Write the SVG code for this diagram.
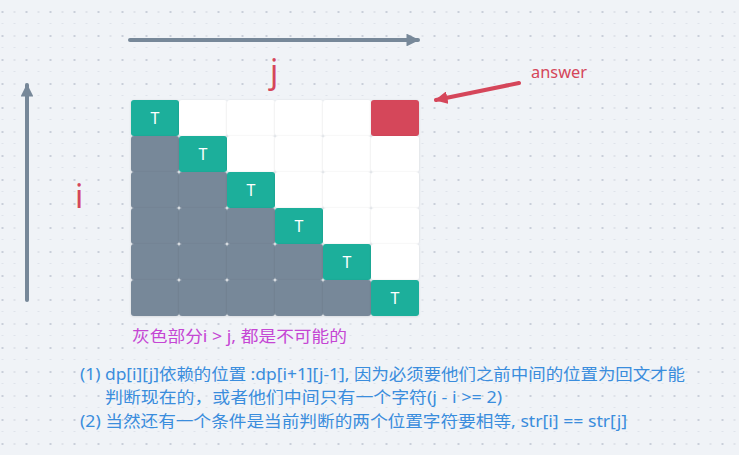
<svg xmlns="http://www.w3.org/2000/svg" width="739" height="455" viewBox="0 0 739 455">
<defs>
<pattern id="dots" x="0" y="0" width="24" height="24" patternUnits="userSpaceOnUse">
<rect x="1.5" y="11" width="2" height="2" fill="#c9cfda"/>
<rect x="13.5" y="11" width="2" height="2" fill="#dfe3ea"/>
<rect x="1.5" y="23" width="2" height="2" fill="#dfe3ea"/>
<rect x="13.5" y="23" width="2" height="2" fill="#dfe3ea"/>
</pattern>
<marker id="ahGray" viewBox="0 0 10 10" refX="9" refY="5" markerWidth="3.2" markerHeight="3.2" orient="auto" markerUnits="strokeWidth">
<path d="M0,0 L10,5 L0,10 z" fill="#778899"/>
</marker>
<marker id="ahRed" viewBox="0 0 10 10" refX="9" refY="5" markerWidth="3.2" markerHeight="3.2" orient="auto" markerUnits="strokeWidth">
<path d="M0,0 L10,5 L0,10 z" fill="#d5465a"/>
</marker>
<filter id="sh" x="-10%" y="-10%" width="120%" height="130%">
<feDropShadow dx="0" dy="0.5" stdDeviation="0.8" flood-color="#000" flood-opacity="0.13"/>
</filter>
</defs>
<style>
.cell{stroke:none;filter:url(#sh);}
.w{fill:#ffffff;}
.g{fill:#778899;}
.t{fill:#1aaf9b;}
.r{fill:#d5465a;}
.tl{font-family:"Noto Sans","DejaVu Sans",sans-serif;font-size:16px;fill:#ffffff;text-anchor:middle;}
.note{font-family:"Noto Sans","Noto Sans CJK SC",sans-serif;font-size:16px;fill:#3a8ddd;}
.arrow{stroke:#778899;stroke-width:4;fill:none;stroke-linecap:round;}
</style>
<rect width="739" height="455" fill="#f0f3f7"/>
<rect width="739" height="455" fill="url(#dots)"/>

<g id="connectors">
<line class="arrow" x1="130" y1="40" x2="418" y2="40" marker-end="url(#ahGray)"/>
<line class="arrow" x1="27" y1="300" x2="27" y2="85" marker-end="url(#ahGray)"/>
<line x1="519" y1="83" x2="436" y2="100" stroke="#d5465a" stroke-width="4" stroke-linecap="round" marker-end="url(#ahRed)"/>
</g>

<g id="labels">
<text x="270" y="83" font-family="Noto Sans, DejaVu Sans, sans-serif" font-size="32" fill="#d5465a">j</text>
<text x="75" y="208" font-family="Noto Sans, DejaVu Sans, sans-serif" font-size="32" fill="#d5465a">i</text>
<text x="531" y="78" font-family="Noto Sans, DejaVu Sans, sans-serif" font-size="16" fill="#d5465a" textLength="56" lengthAdjust="spacingAndGlyphs">answer</text>
</g>

<g id="grid">
<g id="row0">
<rect class="cell t" x="131" y="100" width="48" height="36" rx="3"/>
<rect class="cell w" x="179" y="100" width="48" height="36" rx="3"/>
<rect class="cell w" x="227" y="100" width="48" height="36" rx="3"/>
<rect class="cell w" x="275" y="100" width="48" height="36" rx="3"/>
<rect class="cell w" x="323" y="100" width="48" height="36" rx="3"/>
<rect class="cell r" x="371" y="100" width="48" height="36" rx="3"/>
</g>
<g id="row1">
<rect class="cell g" x="131" y="136" width="48" height="36" rx="3"/>
<rect class="cell t" x="179" y="136" width="48" height="36" rx="3"/>
<rect class="cell w" x="227" y="136" width="48" height="36" rx="3"/>
<rect class="cell w" x="275" y="136" width="48" height="36" rx="3"/>
<rect class="cell w" x="323" y="136" width="48" height="36" rx="3"/>
<rect class="cell w" x="371" y="136" width="48" height="36" rx="3"/>
</g>
<g id="row2">
<rect class="cell g" x="131" y="172" width="48" height="36" rx="3"/>
<rect class="cell g" x="179" y="172" width="48" height="36" rx="3"/>
<rect class="cell t" x="227" y="172" width="48" height="36" rx="3"/>
<rect class="cell w" x="275" y="172" width="48" height="36" rx="3"/>
<rect class="cell w" x="323" y="172" width="48" height="36" rx="3"/>
<rect class="cell w" x="371" y="172" width="48" height="36" rx="3"/>
</g>
<g id="row3">
<rect class="cell g" x="131" y="208" width="48" height="36" rx="3"/>
<rect class="cell g" x="179" y="208" width="48" height="36" rx="3"/>
<rect class="cell g" x="227" y="208" width="48" height="36" rx="3"/>
<rect class="cell t" x="275" y="208" width="48" height="36" rx="3"/>
<rect class="cell w" x="323" y="208" width="48" height="36" rx="3"/>
<rect class="cell w" x="371" y="208" width="48" height="36" rx="3"/>
</g>
<g id="row4">
<rect class="cell g" x="131" y="244" width="48" height="36" rx="3"/>
<rect class="cell g" x="179" y="244" width="48" height="36" rx="3"/>
<rect class="cell g" x="227" y="244" width="48" height="36" rx="3"/>
<rect class="cell g" x="275" y="244" width="48" height="36" rx="3"/>
<rect class="cell t" x="323" y="244" width="48" height="36" rx="3"/>
<rect class="cell w" x="371" y="244" width="48" height="36" rx="3"/>
</g>
<g id="row5">
<rect class="cell g" x="131" y="280" width="48" height="36" rx="3"/>
<rect class="cell g" x="179" y="280" width="48" height="36" rx="3"/>
<rect class="cell g" x="227" y="280" width="48" height="36" rx="3"/>
<rect class="cell g" x="275" y="280" width="48" height="36" rx="3"/>
<rect class="cell g" x="323" y="280" width="48" height="36" rx="3"/>
<rect class="cell t" x="371" y="280" width="48" height="36" rx="3"/>
</g>
</g>
<g id="tlabels">
<text class="tl" x="155" y="124">T</text>
<text class="tl" x="203" y="160">T</text>
<text class="tl" x="251" y="196">T</text>
<text class="tl" x="299" y="232">T</text>
<text class="tl" x="347" y="268">T</text>
<text class="tl" x="395" y="304">T</text>
</g>

<g id="notes">
<text x="132" y="342" font-family="Noto Sans, Noto Sans CJK SC, sans-serif" font-size="16" fill="#c546d4" textLength="215" lengthAdjust="spacingAndGlyphs">灰色部分i &gt; j, 都是不可能的</text>
<text class="note" x="80" y="380" textLength="605" lengthAdjust="spacingAndGlyphs">(1) dp[i][j]依赖的位置 :dp[i+1][j-1], 因为必须要他们之前中间的位置为回文才能</text>
<text class="note" x="105" y="403" textLength="397" lengthAdjust="spacingAndGlyphs">判断现在的，或者他们中间只有一个字符(j - i &gt;= 2)</text>
<text class="note" x="80" y="427" textLength="547" lengthAdjust="spacingAndGlyphs">(2) 当然还有一个条件是当前判断的两个位置字符要相等, str[i] == str[j]</text>
</g>
</svg>
